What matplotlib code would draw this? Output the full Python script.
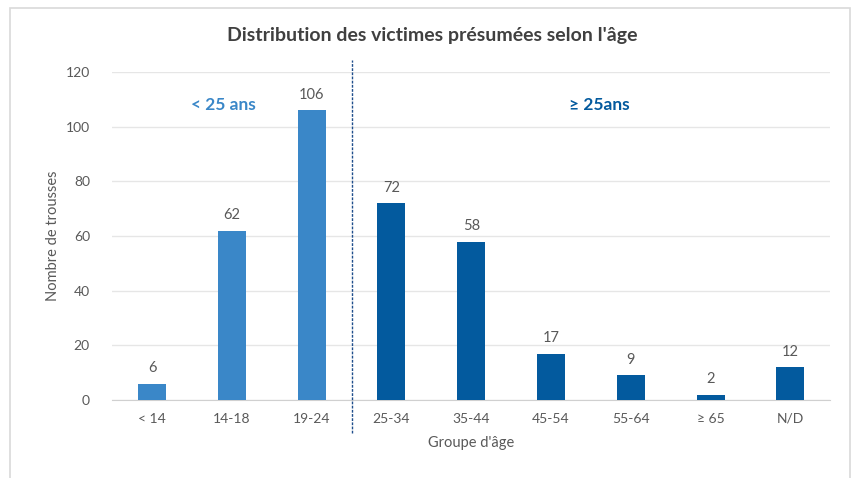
import matplotlib
matplotlib.use("Agg")
import matplotlib.pyplot as plt
from matplotlib.patches import Rectangle
from matplotlib.lines import Line2D

plt.rcParams["font.family"] = ["Lato", "DejaVu Sans"]

age_groups = ["< 14", "14-18", "19-24", "25-34", "35-44", "45-54", "55-64", "≥ 65", "N/D"]
counts = [6, 62, 106, 72, 58, 17, 9, 2, 12]
n_young = 3  # groups under 25

LIGHT = "#3a87c8"
DARK = "#035a9e"
GREY = "#595959"

fig = plt.figure(figsize=(8.56, 4.78), dpi=100)
ax = fig.add_axes([0.131, 0.163, 0.839, 0.686])

colors = [LIGHT] * n_young + [DARK] * (len(counts) - n_young)
x = range(len(age_groups))
bars = ax.bar(x, counts, width=0.35, color=colors, zorder=3)
for b, v in zip(bars, counts):
    ax.text(b.get_x() + b.get_width() / 2, v + 3, str(v), ha="center", va="bottom",
            fontsize=10.5, color=GREY)

ax.set_xlim(-0.5, len(age_groups) - 0.5)
ax.set_ylim(0, 120)
ax.set_yticks(range(0, 121, 20))
ax.set_xticks(list(x))
ax.set_xticklabels(age_groups)
ax.tick_params(length=0, labelsize=10, labelcolor=GREY, pad=9)
ax.tick_params(axis="y", pad=16)
ax.grid(axis="y", color="#e6e6e6", linewidth=1, zorder=0)
for s in ["top", "right", "left"]:
    ax.spines[s].set_visible(False)
ax.spines["bottom"].set_color("#d0d0d0")

ax.set_xlabel("Groupe d'âge", fontsize=10.5, color=GREY, labelpad=8)
ax.set_ylabel("Nombre de trousses", fontsize=10.5, color=GREY, labelpad=4)

# separator between the two age bands
sep = n_young - 0.5
ax.add_line(Line2D([sep, sep], [-12, 124.5], color="#1f4e8c", linewidth=1,
                   linestyle=(0, (2, 1)), clip_on=False, zorder=4))

ax.text(0.9, 108, "< 25 ans", ha="center", va="center", fontsize=12.5,
        fontweight="bold", color=LIGHT)
ax.text(5.6, 108, "≥ 25ans", ha="center", va="center", fontsize=12.5,
        fontweight="bold", color=DARK)

fig.text(0.505, 0.925, "Distribution des victimes présumées selon l'âge",
         ha="center", va="center", fontsize=14, fontweight="bold", color="#404040")

# chart frame
fig.patches.append(Rectangle((10 / 856, -0.05), 840 / 856, 1.05 - 8 / 478,
                             transform=fig.transFigure, fill=False,
                             edgecolor="#d9d9d9", linewidth=1.2))

fig.savefig("out.png", dpi=100)
